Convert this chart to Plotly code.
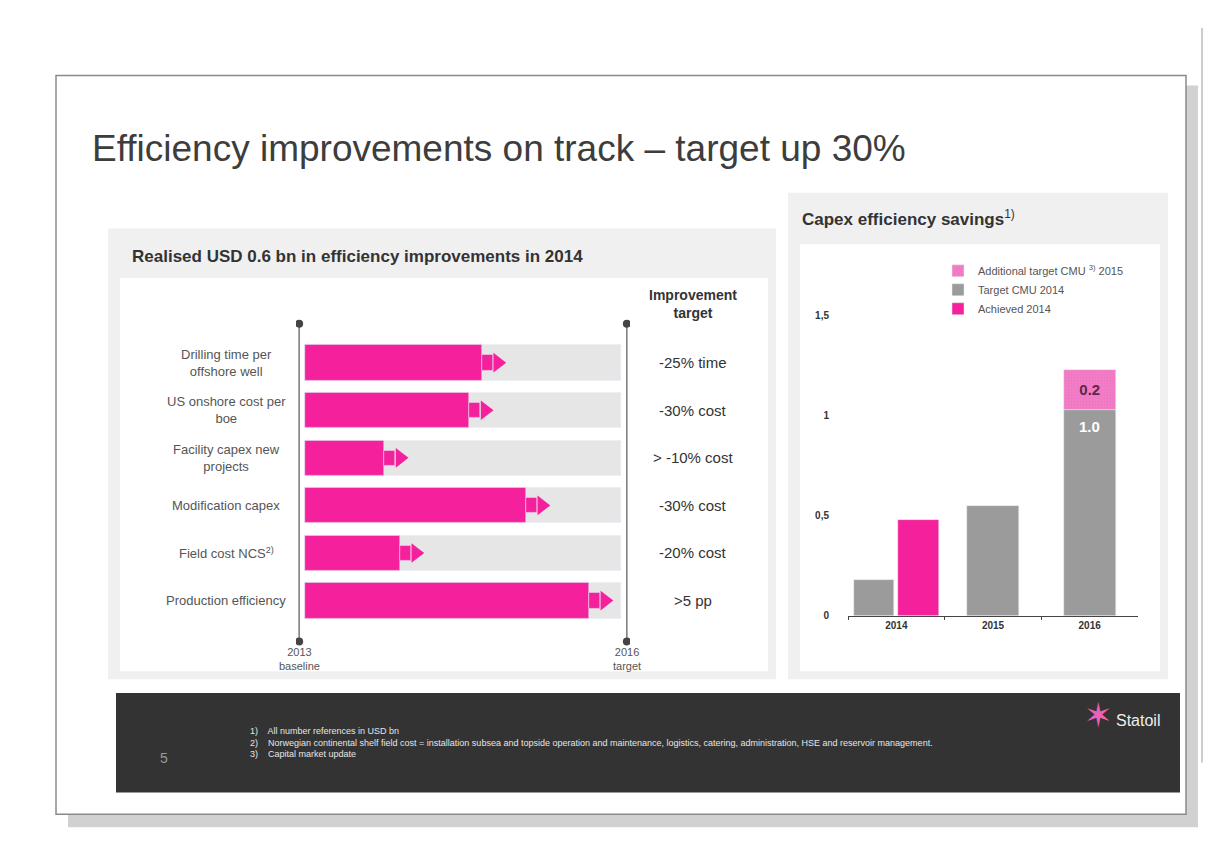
import plotly.graph_objects as go

W, H = 1221, 847
def px(x): return x / W
def py(y): return 1 - y / H

# ---------------- data ----------------
categories = ["Drilling time per<br>offshore well", "US onshore cost per<br>boe",
              "Facility capex new<br>projects", "Modification capex",
              "Field cost NCS<sup>2)</sup>", "Production efficiency"]
cat_keys = ["Drilling", "US onshore", "Facility", "Modification", "Field cost", "Production"]
achieved_share = [0.56, 0.52, 0.25, 0.70, 0.30, 0.90]
target_share = [1.0, 1.0, 1.0, 1.0, 1.0, 1.0]
targets = ["-25% time", "-30% cost", "> -10% cost", "-30% cost", "-20% cost", ">5 pp"]

years = ["2014", "2015", "2016"]
target_cmu_2014 = [0.18, 0.55, 1.03]
achieved_2014 = [0.48]
additional_2015 = [0.20]
target_2016_label = "1.0"
additional_labels = ["0.2"]
ytick_vals = [0, 0.5, 1, 1.5]
ytick_text = ["0", "0,5", "1", "1,5"]

PINK = "#f5219c"
LPINK = "#f27cc6"
GRAY = "#9b9b9b"
LGRAY = "#e6e6e6"
FONT = "Liberation Sans, Arial, sans-serif"

fig = go.Figure()

# ---------------- left chart ----------------
fig.add_trace(go.Bar(y=cat_keys, x=target_share, orientation="h", marker_color=LGRAY,
                     width=0.74, xaxis="x", yaxis="y", showlegend=False, hoverinfo="skip"))
fig.add_trace(go.Bar(y=cat_keys, x=achieved_share, orientation="h", marker_color=PINK,
                     width=0.74, xaxis="x", yaxis="y", showlegend=False))
fig.add_trace(go.Bar(y=cat_keys, x=[0.035] * len(cat_keys), base=achieved_share, orientation="h",
                     marker_color=PINK, width=0.32, xaxis="x", yaxis="y", showlegend=False,
                     hoverinfo="skip"))
fig.add_trace(go.Scatter(y=cat_keys, x=[v + 0.05 for v in achieved_share], mode="markers",
                         marker=dict(symbol="triangle-right", size=17, color=PINK),
                         xaxis="x", yaxis="y", showlegend=False, cliponaxis=False,
                         hoverinfo="skip"))

# ---------------- right chart ----------------
fig.add_trace(go.Bar(x=years, y=target_cmu_2014, name="Target CMU 2014", marker_color=GRAY,
                     width=[0.42, 0.54, 0.54], offset=[-0.44, -0.27, -0.27],
                     xaxis="x2", yaxis="y2", legendrank=2))
fig.add_trace(go.Bar(x=["2014"], y=achieved_2014, name="Achieved 2014", marker_color=PINK,
                     width=[0.42], offset=[0.02], xaxis="x2", yaxis="y2", legendrank=3))
fig.add_trace(go.Bar(x=["2016"], y=additional_2015, base=[target_cmu_2014[2]],
                     name="Additional target CMU <sup>3)</sup> 2015",
                     marker=dict(color=LPINK, pattern=dict(shape=".", fgcolor="#e86bb8", size=3, solidity=0.2)),
                     width=[0.54], offset=[-0.27],
                     text=additional_labels, textposition="inside", insidetextanchor="middle",
                     textfont=dict(color="#5a2a48", size=15, family=FONT, weight="bold"),
                     xaxis="x2", yaxis="y2", legendrank=1))

shapes = []
# page shadow + slide
shapes.append(dict(type="rect", xref="paper", yref="paper", x0=px(60), x1=px(1190),
                   y0=py(825), y1=py(78), fillcolor="rgba(0,0,0,0.18)", line_width=0, layer="below"))
shapes.append(dict(type="rect", xref="paper", yref="paper", x0=px(48), x1=px(1178),
                   y0=py(812), y1=py(68), fillcolor="white", line=dict(color="#8a8a8a", width=1.5), layer="below"))
shapes.append(dict(type="line", xref="paper", yref="paper", x0=px(1194), x1=px(1194),
                   y0=py(20), y1=py(760), line=dict(color="#9a9a9a", width=1), layer="below"))
# left panel
shapes.append(dict(type="rect", xref="paper", yref="paper", x0=px(100), x1=px(768),
                   y0=py(676), y1=py(222), fillcolor="#f0f0f0", line_width=0, layer="below"))
shapes.append(dict(type="rect", xref="paper", yref="paper", x0=px(112), x1=px(760),
                   y0=py(668), y1=py(272), fillcolor="white", line_width=0, layer="below"))
# right panel
shapes.append(dict(type="rect", xref="paper", yref="paper", x0=px(780), x1=px(1160),
                   y0=py(676), y1=py(186), fillcolor="#f0f0f0", line_width=0, layer="below"))
shapes.append(dict(type="rect", xref="paper", yref="paper", x0=px(792), x1=px(1152),
                   y0=py(668), y1=py(238), fillcolor="white", line_width=0, layer="below"))
# footer
shapes.append(dict(type="rect", xref="paper", yref="paper", x0=px(108), x1=px(1172),
                   y0=py(790), y1=py(690), fillcolor="#333333", line_width=0, layer="below"))
# baseline / target lines with dots
for xv in (-0.02, 1.02):
    shapes.append(dict(type="line", xref="x", yref="paper", x0=xv, x1=xv,
                       y0=py(638), y1=py(318), line=dict(color="#777777", width=1.5)))
    for yy in (318, 638):
        shapes.append(dict(type="circle", xref="x", yref="paper", xsizemode="pixel", ysizemode="pixel",
                           xanchor=xv, yanchor=py(yy), x0=-4, x1=4, y0=-4, y1=4,
                           fillcolor="#444444", line_width=0))

ann = []
ann.append(dict(text="Efficiency improvements on track – target up 30%", x=px(82), y=py(142),
                xref="paper", yref="paper", xanchor="left", yanchor="middle", showarrow=False,
                font=dict(size=37, color="#3d3d3d", family=FONT)))
ann.append(dict(text="<b>Realised USD 0.6 bn in efficiency improvements in 2014</b>", x=px(122), y=py(250),
                xref="paper", yref="paper", xanchor="left", yanchor="middle", showarrow=False,
                font=dict(size=17, color="#333333", family=FONT)))
ann.append(dict(text="<b>Capex efficiency savings</b><sup>1)</sup>", x=px(792), y=py(212),
                xref="paper", yref="paper", xanchor="left", yanchor="middle", showarrow=False,
                font=dict(size=17, color="#333333", family=FONT)))
ann.append(dict(text="<b>Improvement<br>target</b>", x=px(685), y=py(298),
                xref="paper", yref="paper", xanchor="center", yanchor="middle", showarrow=False,
                font=dict(size=14, color="#333333", family=FONT)))
for key, lab, tgt in zip(cat_keys, categories, targets):
    ann.append(dict(text=lab, x=px(218), y=key, xref="paper", yref="y", xanchor="center",
                    yanchor="middle", align="center", showarrow=False,
                    font=dict(size=13, color="#555555", family=FONT)))
    ann.append(dict(text=tgt, x=px(685), y=key, xref="paper", yref="y", xanchor="center",
                    yanchor="middle", showarrow=False, font=dict(size=15, color="#333333", family=FONT)))
ann.append(dict(text="2013<br>baseline", x=-0.02, y=py(656), xref="x", yref="paper", xanchor="center",
                yanchor="middle", showarrow=False, font=dict(size=11, color="#555555", family=FONT)))
ann.append(dict(text="2016<br>target", x=1.02, y=py(656), xref="x", yref="paper", xanchor="center",
                yanchor="middle", showarrow=False, font=dict(size=11, color="#555555", family=FONT)))
# value label inside the 2016 target bar (category index of 2016)
ann.append(dict(text="<b>" + target_2016_label + "</b>", x=years.index("2016"), y=target_cmu_2014[2],
                xref="x2", yref="y2", xanchor="center", yanchor="top", yshift=-6, showarrow=False,
                font=dict(size=15, color="white", family=FONT)))
# footer texts
ann.append(dict(text="5", x=px(150), y=py(765), xref="paper", yref="paper", xanchor="left",
                showarrow=False, font=dict(size=14, color="#9a9a9a", family=FONT)))
ann.append(dict(text="1)    All number references in USD bn<br>"
                     "2)    Norwegian continental shelf field cost = installation subsea and topside operation and maintenance, logistics, catering, administration, HSE and reservoir management.<br>"
                     "3)    Capital market update",
                x=px(240), y=py(740), xref="paper", yref="paper", xanchor="left", yanchor="middle",
                align="left", showarrow=False, font=dict(size=9, color="#e6e6e6", family=FONT)))
ann.append(dict(text="✶", x=px(1090), y=py(712), xref="paper", yref="paper", xanchor="center",
                yanchor="middle", showarrow=False, font=dict(size=34, color="#ee5fb6", family="DejaVu Sans")))
ann.append(dict(text="Statoil", x=px(1106), y=py(718), xref="paper", yref="paper", xanchor="left",
                yanchor="middle", showarrow=False, font=dict(size=16, color="#eeeeee", family=FONT)))

hidden = dict(showticklabels=False, showline=False, showgrid=False, zeroline=False, ticks="")

fig.update_layout(
    width=W, height=H, autosize=False,
    margin=dict(l=0, r=0, t=0, b=0),
    paper_bgcolor="white", plot_bgcolor="rgba(0,0,0,0)",
    barmode="overlay", bargap=0,
    font=dict(family=FONT, color="#333333"),
    shapes=shapes, annotations=ann,
    xaxis=dict(domain=[px(288), px(622)], range=[-0.03, 1.03], fixedrange=True, **hidden),
    yaxis=dict(domain=[py(622), py(332)], type="category", categoryarray=cat_keys,
               autorange="reversed", **hidden),
    xaxis2=dict(domain=[px(840), px(1130)], anchor="y2", type="category", categoryarray=years,
                categoryorder="array", range=[-0.5, 2.5],
                showline=True, linecolor="#444444", linewidth=1, ticks="outside", tickson="boundaries",
                ticklen=3, tickcolor="#444444",
                tickfont=dict(size=10, color="#333333", family=FONT, weight="bold"),
                showgrid=False),
    yaxis2=dict(domain=[py(612), py(298)], anchor="x2", range=[0, 1.56], tickvals=ytick_vals,
                ticktext=ytick_text, showgrid=False, zeroline=False, showline=False,
                tickfont=dict(size=10, color="#333333", family=FONT, weight="bold"), ticklabelstandoff=18),
    legend=dict(x=px(930), y=py(250), xanchor="left", yanchor="top", bgcolor="rgba(0,0,0,0)",
                font=dict(size=11, color="#555555", family=FONT), tracegroupgap=0),
)

fig.write_html("out.html")
